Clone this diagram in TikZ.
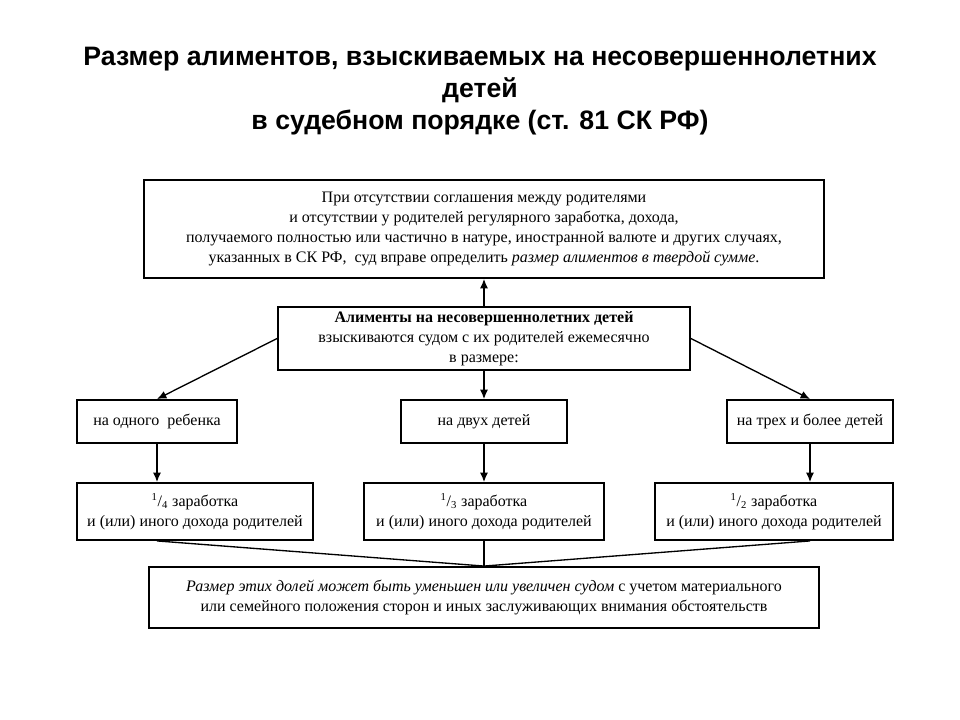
\documentclass[tikz,border=0pt]{standalone}
\usepackage{fontspec}
\setmainfont{Liberation Serif}
\newfontfamily\headfont{Liberation Sans}
\usetikzlibrary{arrows.meta}

\tikzset{
  frame/.style={draw, line width=1.4pt, align=center, inner sep=2pt,
    font=\fontsize{12}{15}\selectfont},
  link/.style={line width=1pt, -{Latex[length=7pt,width=6pt]}},
  plain/.style={line width=1pt}
}

\begin{document}
\begin{tikzpicture}[x=0.75pt, y=-0.75pt]
  % page frame (pixel coordinates, y downwards)
  \useasboundingbox (0,0) rectangle (960,720);

  % Title
  \node[font=\headfont\bfseries\fontsize{20}{24}\selectfont, align=center] (title) at (480,91)
    {Размер алиментов, взыскиваемых на несовершеннолетних\\детей\\в судебном порядке (ст. 81 СК РФ)};

  % Fixed sum box
  \node[frame, minimum width=510pt, minimum height=73.5pt] (solid) at (484,229)
    {При отсутствии соглашения между родителями\\
     и отсутствии у родителей регулярного заработка, дохода,\\
     получаемого полностью или частично в натуре, иностранной валюте и других случаях,\\
     указанных в СК РФ,\ \ суд вправе определить \textit{размер алиментов в твердой сумме}.};

  % Main box
  \node[frame, minimum width=309pt, minimum height=47.25pt] (main) at (484,338.5)
    {\textbf{Алименты на несовершеннолетних детей}\\
     взыскиваются судом с их родителей ежемесячно\\
     в размере:};

  % Number of children
  \node[frame, minimum width=120pt, minimum height=32.25pt] (one) at (157,421.5) {на одного\ \ ребенка};
  \node[frame, minimum width=124.5pt, minimum height=32.25pt] (two) at (484,421.5) {на двух детей};
  \node[frame, minimum width=124.5pt, minimum height=32.25pt] (three) at (810,421.5) {на трех и более детей};

  % Shares
  \node[frame, minimum width=177pt, minimum height=42.75pt] (quarter) at (195,511.5)
    {\textsuperscript{1}/\textsubscript{4} заработка\\и (или) иного дохода родителей};
  \node[frame, minimum width=180pt, minimum height=42.75pt] (third) at (484,511.5)
    {\textsuperscript{1}/\textsubscript{3} заработка\\и (или) иного дохода родителей};
  \node[frame, minimum width=178.5pt, minimum height=42.75pt] (half) at (774,511.5)
    {\textsuperscript{1}/\textsubscript{2} заработка\\и (или) иного дохода родителей};

  % Correction box
  \node[frame, minimum width=502.5pt, minimum height=45.75pt] (size) at (484,597.5)
    {\textit{Размер этих долей может быть уменьшен или увеличен судом} с учетом материального\\
     или семейного положения сторон и иных заслуживающих внимания обстоятельств};

  % Arrows from the main box
  \draw[link] (main.north) -- (solid.south);
  \draw[link] (main.south) -- (two.north);
  \draw[link] (main.west) -- (one.north);
  \draw[link] (main.east) -- (three.north);

  % Columns
  \draw[link] (one.south) -- (one.south |- quarter.north);
  \draw[link] (two.south) -- (third.north);
  \draw[link] (three.south) -- (three.south |- half.north);

  % Lines into the correction box
  \draw[plain] (one.south |- quarter.south) -- (size.north);
  \draw[plain] (third.south) -- (size.north);
  \draw[plain] (three.south |- half.south) -- (size.north);
\end{tikzpicture}
\end{document}
